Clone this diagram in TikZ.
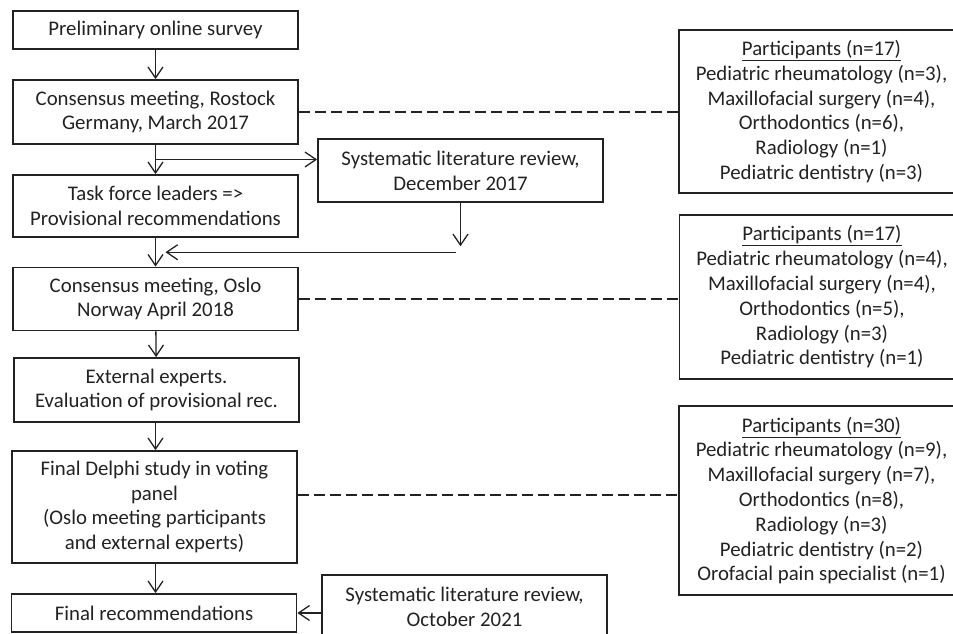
\documentclass[tikz,border=0pt]{standalone}
\usepackage{fontspec}
\setmainfont{Carlito}
\usetikzlibrary{arrows.meta,calc}
\definecolor{ink}{HTML}{222222}
\begin{document}
\begin{tikzpicture}[
    x=1pt, y=-1pt,
    >={Straight Barb[length=11pt,width=15pt]},
    every node/.style={font=\fontsize{20.8}{24.8}\selectfont, text=ink},
    stepbox/.style={rectangle, draw=ink, line width=1.8pt, align=center, minimum width=285pt, inner sep=0pt},
    partbox/.style={stepbox, minimum width=285pt},
    flow/.style={->, draw=ink, line width=1.3pt},
    dashline/.style={draw=ink, line width=1.3pt, dash pattern=on 11pt off 5pt}
]
\useasboundingbox (0,0) rectangle (953,634);
% linke Spalte
\node[stepbox, minimum height=38pt] (prelim) at (155.5,30) {Preliminary online survey};
\node[stepbox, minimum height=64pt] (rostock) at (155.5,112) {Consensus meeting, Rostock\\Germany, March 2017};
\node[stepbox, minimum height=62pt] (task) at (155.5,206) {Task force leaders =>\\Provisional recommendations};
\node[stepbox, minimum height=63pt] (oslo) at (155.5,299) {Consensus meeting, Oslo\\Norway April 2018};
\node[stepbox, minimum height=64pt] (extern) at (156.5,390) {External experts.\\Evaluation of provisional rec.};
\node[stepbox, minimum height=112pt] (delphi) at (154.5,507) {Final Delphi study in voting\\panel\\(Oslo meeting participants\\and external experts)};
\node[stepbox, minimum height=38pt] (finalrec) at (154,613) {Final recommendations};

% Literatur
\node[stepbox, minimum height=63pt] (review1) at (460.5,170.5) {Systematic literature review,\\December 2017};
\node[stepbox, minimum height=63pt] (review2) at (464.5,606.5) {Systematic literature review,\\October 2021};

% Teilnehmer
\node[partbox, minimum height=163pt] (part1) at (821.5,111.5) {\underline{Participants (n=17)}\\Pediatric rheumatology (n=3),\\Maxillofacial surgery (n=4),\\Orthodontics (n=6),\\Radiology (n=1)\\Pediatric dentistry (n=3)};
\node[partbox, minimum height=164pt] (part2) at (822,297) {\underline{Participants (n=17)}\\Pediatric rheumatology (n=4),\\Maxillofacial surgery (n=4),\\Orthodontics (n=5),\\Radiology (n=3)\\Pediatric dentistry (n=1)};
\node[partbox, minimum height=189pt] (part3) at (821.5,500.5) {\underline{Participants (n=30)}\\Pediatric rheumatology (n=9),\\Maxillofacial surgery (n=7),\\Orthodontics (n=8),\\Radiology (n=3)\\Pediatric dentistry (n=2)\\Orofacial pain specialist (n=1)};

% Pfeile
\coordinate (fork) at ($(rostock.south)!0.5!(task.north)$);
\coordinate (merge) at ($(task.south)!0.5!(oslo.north)$);
\draw[flow] (prelim) -- (rostock);
\draw[flow] (rostock) -- (task);
\draw[flow] (fork) -- (fork -| review1.west);
\draw[flow] (task) -- (oslo);
\draw[flow] (review1.south) -- ([yshift=6pt]review1.south |- merge);
\draw[flow] ([xshift=-5pt]review1.south |- merge) -- ([xshift=10pt]merge);
\draw[flow] (oslo) -- (extern);
\draw[flow] (extern.south -| oslo.south) -- (delphi.north -| oslo.south);
\draw[flow] (delphi.south -| oslo.south) -- (finalrec.north -| oslo.south);
\draw[flow] (review2.west |- finalrec) -- (finalrec.east);

% gestrichelt
\draw[dashline] (rostock.east) -- (rostock.east -| part1.west);
\draw[dashline] (oslo.east) -- (oslo.east -| part2.west);
\draw[dashline] ([yshift=12pt]delphi.east) -- ([yshift=12pt]delphi.east -| part3.west);
\end{tikzpicture}
\end{document}
